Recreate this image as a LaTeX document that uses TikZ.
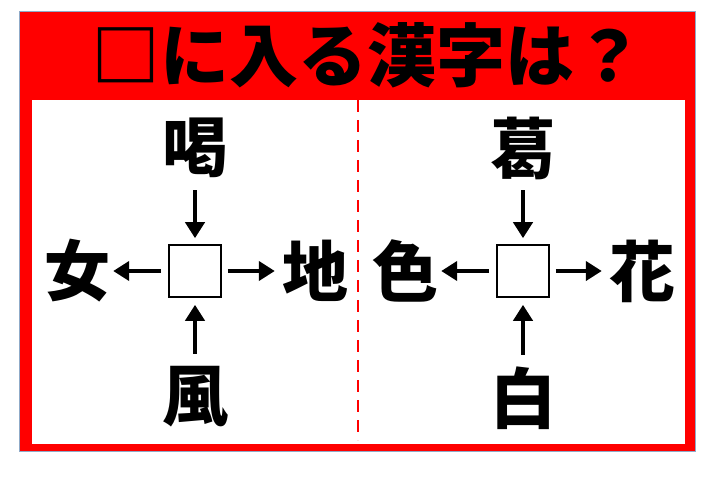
\documentclass[tikz,border=0pt]{standalone}
\usepackage{fontspec}
\newfontfamily\cjk{Noto Sans CJK JP}
\usepackage{tikz}
\usetikzlibrary{positioning,arrows.meta}
\definecolor{framered}{RGB}{255,0,0}
\definecolor{frameline}{RGB}{143,170,200}

\begin{document}
\begin{tikzpicture}[x=1pt,y=-1pt]
\tikzstyle{kanji}=[inner sep=0pt, minimum size=66pt, font=\cjk\bfseries\fontsize{66}{66}\selectfont]
\tikzstyle{blank}=[rectangle, minimum size=52pt, inner sep=0pt, draw=black, line width=1.6pt, fill=white]
\tikzstyle{connect}=[-{Triangle[length=16pt,width=19pt]}, line width=4.2pt]
\useasboundingbox (0,0) rectangle (720,493);

	% frame
	\draw[fill=framered, draw=frameline, line width=1pt] (19,11) rectangle (695,451);
	\fill[white] (32,100) rectangle (685,444);
	\draw[framered, line width=2.5pt, dash pattern=on 12pt off 8pt] (358,100) -- (358,440);

	\node[font=\cjk\bfseries\fontsize{69}{69}\selectfont, inner sep=0pt] (title) at (367,55) {□に入る漢字は？};

	% left puzzle
	\node[blank] (box_1) at (195,271) {};
	\node[kanji] (up_1) at (195,148) {喝};
	\node[kanji] (left_1) at (77,271) {女};
	\node[kanji] (right_1) at (315,271) {地};
	\node[kanji] (down_1) at (195,397) {風};

	% right puzzle
	\node[blank] (box_2) at (523,271) {};
	\node[kanji] (up_2) at (523,148) {葛};
	\node[kanji] (left_2) at (405,271) {色};
	\node[kanji] (right_2) at (642,271) {花};
	\node[kanji] (down_2) at (523,398) {白};

	\foreach \i in {1,2}{
	\path
		(up_\i) edge [connect, shorten <=9pt, shorten >=6pt] (box_\i)
		(down_\i) edge [connect, shorten <=10pt, shorten >=7pt] (box_\i)
		(box_\i) edge [connect, shorten <=7pt, shorten >=3pt] (left_\i)
		(box_\i) edge [connect, shorten <=6pt, shorten >=7pt] (right_\i);
	}

\end{tikzpicture}
\end{document}
